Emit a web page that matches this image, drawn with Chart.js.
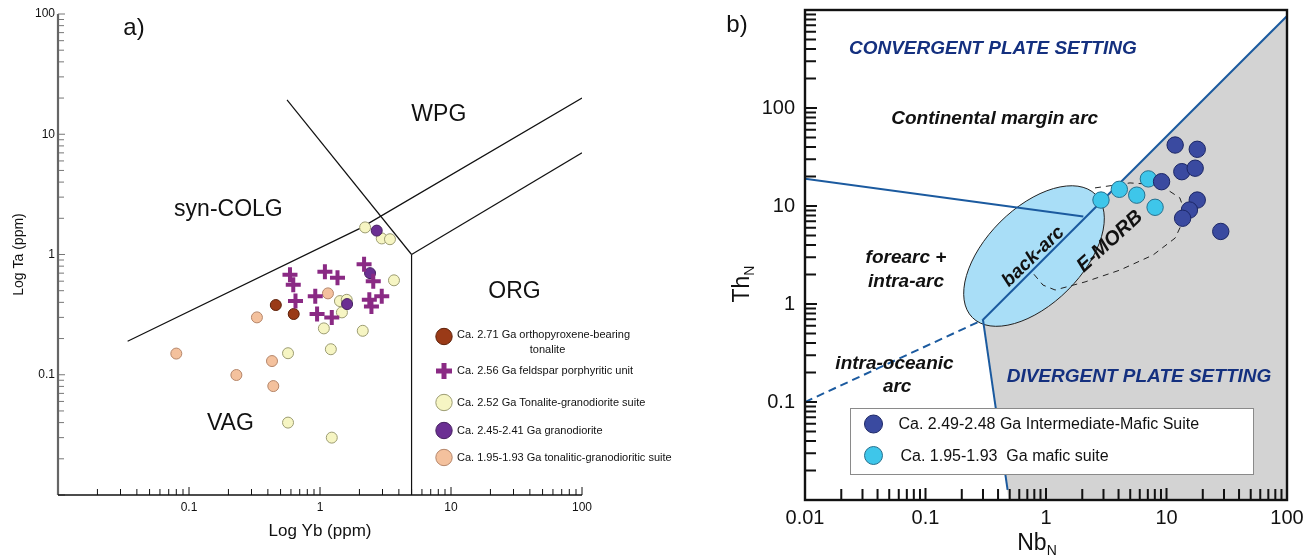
<!DOCTYPE html>
<html>
<head>
<meta charset="utf-8">
<title>Ta-Yb and Th-Nb discrimination diagrams</title>
<script src="https://cdn.jsdelivr.net/npm/chart.js@4.4.1/dist/chart.umd.min.js"></script>
<style>
  body { margin: 0; background: #fff; }
  .panel { position: absolute; top: 0; }
  #chartA { left: 0; }
  #chartB { left: 710px; }
</style>
</head>
<body>
<canvas id="chartA" class="panel" width="710" height="558"></canvas>
<canvas id="chartB" class="panel" width="594" height="558"></canvas>
<script>
// ---- a) Log Ta vs Log Yb (ppm), points are [Yb, Ta] ----
const opxTonalite = [[0.46, 0.38], [0.63, 0.32]];
const feldsparPorph = [[0.59, 0.68], [0.625, 0.56], [1.09, 0.72], [1.36, 0.64], [2.17, 0.83], [2.55, 0.60],
  [0.92, 0.45], [0.65, 0.41], [0.95, 0.32], [1.23, 0.30], [2.38, 0.42], [2.96, 0.45], [2.47, 0.37]];
const tonaliteGranodiorite = [[2.21, 1.68], [2.96, 1.36], [3.42, 1.34], [3.67, 0.61], [1.42, 0.41], [1.60, 0.42],
  [1.47, 0.33], [1.07, 0.243], [2.12, 0.232], [1.21, 0.163], [0.57, 0.151], [0.57, 0.040], [1.23, 0.030]];
const granodiorite = [[2.71, 1.58], [2.41, 0.70], [1.61, 0.387]];
const tonaliticSuite = [[1.15, 0.475], [0.33, 0.30], [0.080, 0.150], [0.43, 0.130], [0.23, 0.0995], [0.44, 0.0805]];

// field boundaries (Pearce et al. style)
const synColgLine = [[0.034, 0.19], [2.02, 1.65], [100, 20]];
const orgLine = [[5, 1], [100, 7]];
const vagOrgLine = [[5, 0.01], [5, 1]];
const wpgLine = [[0.56, 19.3], [5, 1]];

const aLegendLabels = [
  'Ca. 2.71 Ga orthopyroxene-bearing\ntonalite',
  'Ca. 2.56 Ga feldspar porphyritic unit',
  'Ca. 2.52 Ga Tonalite-granodiorite suite',
  'Ca. 2.45-2.41 Ga granodiorite',
  'Ca. 1.95-1.93 Ga tonalitic-granodioritic suite'
];
const aXTicks = [0.1, 1, 10, 100];
const aYTicks = [0.1, 1, 10, 100];

// ---- b) Th_N vs Nb_N, points are [Nb_N, Th_N] ----
const intermediateMafic = [[11.8, 41.9], [18.0, 37.9], [13.4, 22.4], [17.3, 24.3], [9.1, 17.7],
  [18.0, 11.5], [15.5, 9.1], [13.6, 7.5], [28.2, 5.5]];
const maficSuite = [[2.86, 11.5], [4.06, 14.8], [5.66, 12.9], [7.07, 18.9], [8.04, 9.7]];

const mantleArrayLine = [[0.30, 0.69], [100, 869]];
const arcDivideLine = [[0.01, 19], [2.04, 7.8]];
const oceanicArcLine = [[0.01, 0.1], [0.30, 0.69]];
const divergentLine = [[0.30, 0.69], [0.48, 0.0127]];
const divergentField = [[0.30, 0.69], [100, 869], [100, 0.01], [0.49, 0.01]];
const emorbField = [[2.55, 15.3], [4.98, 17.2], [8.83, 16.4], [12.9, 12.1], [14.5, 8.1], [11.8, 4.71],
  [7.73, 3.16], [4.11, 2.22], [2.11, 1.68], [1.19, 1.39], [0.944, 1.56], [0.766, 2.12]];
const backArcAxis = [[0.245, 0.727], [2.58, 13.1]];

const bLegendLabels = ['Ca. 2.49-2.48 Ga Intermediate-Mafic Suite', 'Ca. 1.95-1.93  Ga mafic suite'];
const bXTicks = [0.01, 0.1, 1, 10, 100];
const bYTicks = [0.1, 1, 10, 100];

const FONT = '"Liberation Sans", Arial, sans-serif';
Chart.defaults.font.family = FONT;
Chart.defaults.color = '#111';

const toPts = arr => arr.map(p => ({ x: p[0], y: p[1] }));

function logScale(min, max, tickVals, fitSize, tickFont, tickPad, title) {
  return {
    type: 'logarithmic', min: min, max: max,
    afterBuildTicks: s => { s.ticks = tickVals.map(v => ({ value: v })); },
    afterFit: s => {
      if (s.isHorizontal()) s.height = fitSize; else s.width = fitSize;
      s.paddingTop = s.paddingBottom = s.paddingLeft = s.paddingRight = 0;
    },
    grid: { display: false, drawTicks: false },
    border: { display: false },
    ticks: { autoSkip: false, maxRotation: 0, padding: tickPad, font: { size: tickFont }, color: '#111',
      callback: v => String(v) },
    title: title || { display: false }
  };
}

function lineSet(arr, color, width, dash, order) {
  return { data: toPts(arr), showLine: true, pointRadius: 0, borderColor: color, borderWidth: width,
    borderDash: dash || [], fill: false, order: order };
}

// log tick marks pointing into the plot
function drawLogTicks(chart, spec) {
  const { ctx, chartArea: a } = chart;
  ['x', 'y'].forEach(id => {
    const s = chart.scales[id];
    const o = spec[id];
    const lo = Math.round(Math.log10(s.min)), hi = Math.round(Math.log10(s.max));
    ctx.save();
    ctx.strokeStyle = o.color;
    ctx.lineWidth = o.width;
    ctx.beginPath();
    for (let e = lo; e <= hi; e++) {
      for (let m = 1; m <= 9; m++) {
        const v = m * Math.pow(10, e);
        if (v > s.max * 1.0001) break;
        const len = m === 1 ? o.major : o.minor;
        const p = s.getPixelForValue(v);
        if (id === 'x') { ctx.moveTo(p, a.bottom); ctx.lineTo(p, a.bottom - len); }
        else { ctx.moveTo(a.left, p); ctx.lineTo(a.left + len, p); }
      }
    }
    ctx.stroke();
    ctx.restore();
  });
}

function putText(ctx, t, x, y, font, color, rot) {
  ctx.save();
  ctx.font = font;
  ctx.fillStyle = color;
  ctx.textAlign = 'center';
  ctx.textBaseline = 'middle';
  ctx.translate(x, y);
  if (rot) ctx.rotate(rot * Math.PI / 180);
  ctx.fillText(t, 0, 0);
  ctx.restore();
}

// ---------- panel a ----------
const panelADecor = {
  id: 'panelADecor',
  afterDatasetsDraw(chart) {
    const { ctx, scales: { x, y } } = chart;
    const labels = [
      { t: 'WPG', x: 8.07, y: 14.5 },
      { t: 'syn-COLG', x: 0.20, y: 2.35 },
      { t: 'ORG', x: 30.5, y: 0.49 },
      { t: 'VAG', x: 0.207, y: 0.039 }
    ];
    labels.forEach(l => putText(ctx, l.t, x.getPixelForValue(l.x), y.getPixelForValue(l.y), '23px ' + FONT, '#111'));
  },
  afterDraw(chart) {
    const { ctx, chartArea: a } = chart;
    drawLogTicks(chart, {
      x: { color: '#111', width: 1, major: 8, minor: 6 },
      y: { color: '#777', width: 1, major: 7, minor: 6 }
    });
    ctx.save();
    ctx.strokeStyle = '#666';
    ctx.lineWidth = 2.2;
    ctx.beginPath(); ctx.moveTo(a.left, a.top); ctx.lineTo(a.left, a.bottom); ctx.stroke();
    ctx.strokeStyle = '#111';
    ctx.lineWidth = 1.6;
    ctx.beginPath(); ctx.moveTo(a.left, a.bottom); ctx.lineTo(a.right, a.bottom); ctx.stroke();
    ctx.restore();

    putText(ctx, 'a)', 134, 28, '24px ' + FONT, '#111');

    // legend
    const rowsY = [336.5, 371, 402.5, 430.5, 457.5];
    const mx = 444, tx = 457;
    chart.data.datasets.slice(0, 5).forEach((ds, i) => {
      const cy = rowsY[i];
      ctx.save();
      if (ds.pointStyle === 'cross') {
        ctx.strokeStyle = ds.pointBorderColor;
        ctx.lineWidth = 5;
        ctx.beginPath();
        ctx.moveTo(mx - 8, cy); ctx.lineTo(mx + 8, cy);
        ctx.moveTo(mx, cy - 8); ctx.lineTo(mx, cy + 8);
        ctx.stroke();
      } else {
        ctx.fillStyle = ds.pointBackgroundColor;
        ctx.strokeStyle = ds.pointBorderColor;
        ctx.lineWidth = 1;
        ctx.beginPath(); ctx.arc(mx, cy, 8.2, 0, Math.PI * 2); ctx.fill(); ctx.stroke();
      }
      const lines = ds.label.split('\n');
      ctx.font = '11px ' + FONT;
      ctx.fillStyle = '#111';
      ctx.textBaseline = 'middle';
      ctx.textAlign = 'left';
      ctx.fillText(lines[0], tx, cy - (lines.length > 1 ? 1.5 : 0));
      if (lines[1]) {
        const w = ctx.measureText(lines[0]).width;
        ctx.textAlign = 'center';
        ctx.fillText(lines[1], tx + w / 2 + 4, cy + 13.5);
      }
      ctx.restore();
    });
  }
};

new Chart(document.getElementById('chartA'), {
  type: 'scatter',
  data: {
    datasets: [
      { label: aLegendLabels[0], data: toPts(opxTonalite), pointRadius: 5.5, pointBackgroundColor: '#9a3a17',
        pointBorderColor: '#5e2109', pointBorderWidth: 1, order: 2 },
      { label: aLegendLabels[1], data: toPts(feldsparPorph), pointStyle: 'cross', pointRadius: 7.5,
        pointBorderColor: '#8a2a84', pointBorderWidth: 4, order: 1 },
      { label: aLegendLabels[2], data: toPts(tonaliteGranodiorite), pointRadius: 5.5, pointBackgroundColor: '#f6f5c3',
        pointBorderColor: '#9c9c72', pointBorderWidth: 1, order: 4 },
      { label: aLegendLabels[3], data: toPts(granodiorite), pointRadius: 5.5, pointBackgroundColor: '#6b2f93',
        pointBorderColor: '#45205f', pointBorderWidth: 1, order: 3 },
      { label: aLegendLabels[4], data: toPts(tonaliticSuite), pointRadius: 5.5, pointBackgroundColor: '#f4c19d',
        pointBorderColor: '#b5866a', pointBorderWidth: 1, order: 5 },
      lineSet(synColgLine, '#111', 1.2, null, 10),
      lineSet(orgLine, '#111', 1.2, null, 10),
      lineSet(vagOrgLine, '#111', 1.2, null, 10),
      lineSet(wpgLine, '#111', 1.2, null, 10)
    ]
  },
  options: {
    responsive: false, animation: false, events: [], devicePixelRatio: 1,
    layout: { padding: { left: 0, top: 14, right: 128, bottom: 0 } },
    plugins: { legend: { display: false }, tooltip: { enabled: false } },
    scales: {
      x: logScale(0.01, 100, aXTicks, 63, 12, 5,
        { display: true, text: 'Log Yb (ppm)', font: { size: 17 }, color: '#111', padding: { top: 0, bottom: 16 } }),
      y: logScale(0.01, 100, aYTicks, 58, 12, 3,
        { display: true, text: 'Log Ta (ppm)', font: { size: 14 }, color: '#111', padding: { top: 11, bottom: 0 } })
    }
  },
  plugins: [panelADecor]
});

// ---------- panel b ----------
const panelBDecor = {
  id: 'panelBDecor',
  afterDatasetDraw(chart, args) {
    // back-arc ellipse sits on top of the grey divergent field
    if (args.index !== chart.data.datasets.length - 1) return;
    const { ctx, scales: { x, y } } = chart;
    const p1 = { x: x.getPixelForValue(backArcAxis[0][0]), y: y.getPixelForValue(backArcAxis[0][1]) };
    const p2 = { x: x.getPixelForValue(backArcAxis[1][0]), y: y.getPixelForValue(backArcAxis[1][1]) };
    const cx = (p1.x + p2.x) / 2, cy = (p1.y + p2.y) / 2;
    const semiMajor = Math.hypot(p2.x - p1.x, p2.y - p1.y) / 2;
    const ang = Math.atan2(p2.y - p1.y, p2.x - p1.x);
    ctx.save();
    ctx.beginPath();
    ctx.ellipse(cx, cy, semiMajor, 48, ang, 0, Math.PI * 2);
    ctx.fillStyle = '#a9def7';
    ctx.fill();
    ctx.strokeStyle = '#222';
    ctx.lineWidth = 1;
    ctx.stroke();
    ctx.restore();
  },
  afterDatasetsDraw(chart) {
    const { ctx, scales: { x, y } } = chart;
    const bi = 'italic bold 19px ' + FONT;
    const labels = [
      { t: 'CONVERGENT PLATE SETTING', x: 0.362, y: 406, c: '#14307f' },
      { t: 'Continental margin arc', x: 0.375, y: 78.5, c: '#111' },
      { t: 'forearc +', x: 0.0689, y: 2.93, c: '#111' },
      { t: 'intra-arc', x: 0.0689, y: 1.69, c: '#111' },
      { t: 'intra-oceanic', x: 0.0553, y: 0.244, c: '#111' },
      { t: 'arc', x: 0.0582, y: 0.143, c: '#111' },
      { t: 'DIVERGENT PLATE SETTING', x: 5.91, y: 0.181, c: '#14307f' },
      { t: 'back-arc', x: 0.785, y: 3.04, c: '#111', r: -44 },
      { t: 'E-MORB', x: 3.40, y: 4.33, c: '#111', r: -42.5, f: 'italic bold 20px ' + FONT }
    ];
    labels.forEach(l => putText(ctx, l.t, x.getPixelForValue(l.x), y.getPixelForValue(l.y), l.f || bi, l.c, l.r));
  },
  afterDraw(chart) {
    const { ctx, chartArea: a } = chart;
    drawLogTicks(chart, {
      x: { color: '#111', width: 2, major: 12, minor: 11 },
      y: { color: '#111', width: 2, major: 12, minor: 11 }
    });
    ctx.save();
    ctx.strokeStyle = '#111';
    ctx.lineWidth = 2.4;
    ctx.strokeRect(a.left, a.top, a.right - a.left, a.bottom - a.top);
    ctx.restore();

    putText(ctx, 'b)', 27, 25, '24px ' + FONT, '#111');

    // axis titles with subscripts
    ctx.save();
    ctx.fillStyle = '#111';
    ctx.textBaseline = 'alphabetic';
    ctx.textAlign = 'left';
    ctx.font = '23px ' + FONT;
    const wNb = ctx.measureText('Nb').width;
    ctx.font = '14px ' + FONT;
    const wN = ctx.measureText('N').width;
    let sx = 327 - (wNb + wN) / 2;
    ctx.font = '23px ' + FONT; ctx.fillText('Nb', sx, 550);
    ctx.font = '14px ' + FONT; ctx.fillText('N', sx + wNb, 555);
    ctx.translate(31, 284);
    ctx.rotate(-Math.PI / 2);
    ctx.font = '23px ' + FONT;
    const wTh = ctx.measureText('Th').width;
    sx = -(wTh + wN) / 2;
    ctx.fillText('Th', sx, 8);
    ctx.font = '14px ' + FONT; ctx.fillText('N', sx + wTh, 13);
    ctx.restore();

    // legend box
    ctx.save();
    ctx.fillStyle = '#fff';
    ctx.strokeStyle = '#8a8a8a';
    ctx.lineWidth = 1;
    ctx.fillRect(140, 408, 403, 66);
    ctx.strokeRect(140.5, 408.5, 403, 66);
    const rows = [424, 455.5];
    const textX = [188.5, 190.5];
    chart.data.datasets.slice(0, 2).forEach((ds, i) => {
      ctx.beginPath();
      ctx.arc(163.5, rows[i], 9, 0, Math.PI * 2);
      ctx.fillStyle = ds.pointBackgroundColor;
      ctx.fill();
      ctx.strokeStyle = ds.pointBorderColor;
      ctx.stroke();
      ctx.fillStyle = '#111';
      ctx.font = '16px ' + FONT;
      ctx.textAlign = 'left';
      ctx.textBaseline = 'middle';
      ctx.fillText(ds.label, textX[i], rows[i] + 1);
    });
    ctx.restore();
  }
};

const BLUE = '#1b5a9f';
new Chart(document.getElementById('chartB'), {
  type: 'scatter',
  data: {
    datasets: [
      { label: bLegendLabels[0], data: toPts(intermediateMafic), pointRadius: 8.2, pointBackgroundColor: '#3a4aa0',
        pointBorderColor: '#1c2766', pointBorderWidth: 1 },
      { label: bLegendLabels[1], data: toPts(maficSuite), pointRadius: 8.2, pointBackgroundColor: '#3ec6ea',
        pointBorderColor: '#26708e', pointBorderWidth: 1 },
      lineSet(emorbField, '#222', 1, [6, 5]),
      lineSet(arcDivideLine, BLUE, 2),
      lineSet(oceanicArcLine, BLUE, 2, [8, 5]),
      lineSet(divergentLine, BLUE, 2),
      lineSet(mantleArrayLine, BLUE, 2),
      { data: toPts(divergentField), showLine: true, pointRadius: 0, borderWidth: 0,
        borderColor: 'rgba(0,0,0,0)', backgroundColor: '#d3d3d3', fill: 'shape' }
    ]
  },
  options: {
    responsive: false, animation: false, events: [], devicePixelRatio: 1,
    layout: { padding: { left: 0, top: 10, right: 17, bottom: 0 } },
    plugins: { legend: { display: false }, tooltip: { enabled: false } },
    scales: {
      x: logScale(0.01, 100, bXTicks, 58, 20, 6),
      y: logScale(0.01, 1000, bYTicks, 95, 20, 10)
    }
  },
  plugins: [panelBDecor]
});
</script>
</body>
</html>
